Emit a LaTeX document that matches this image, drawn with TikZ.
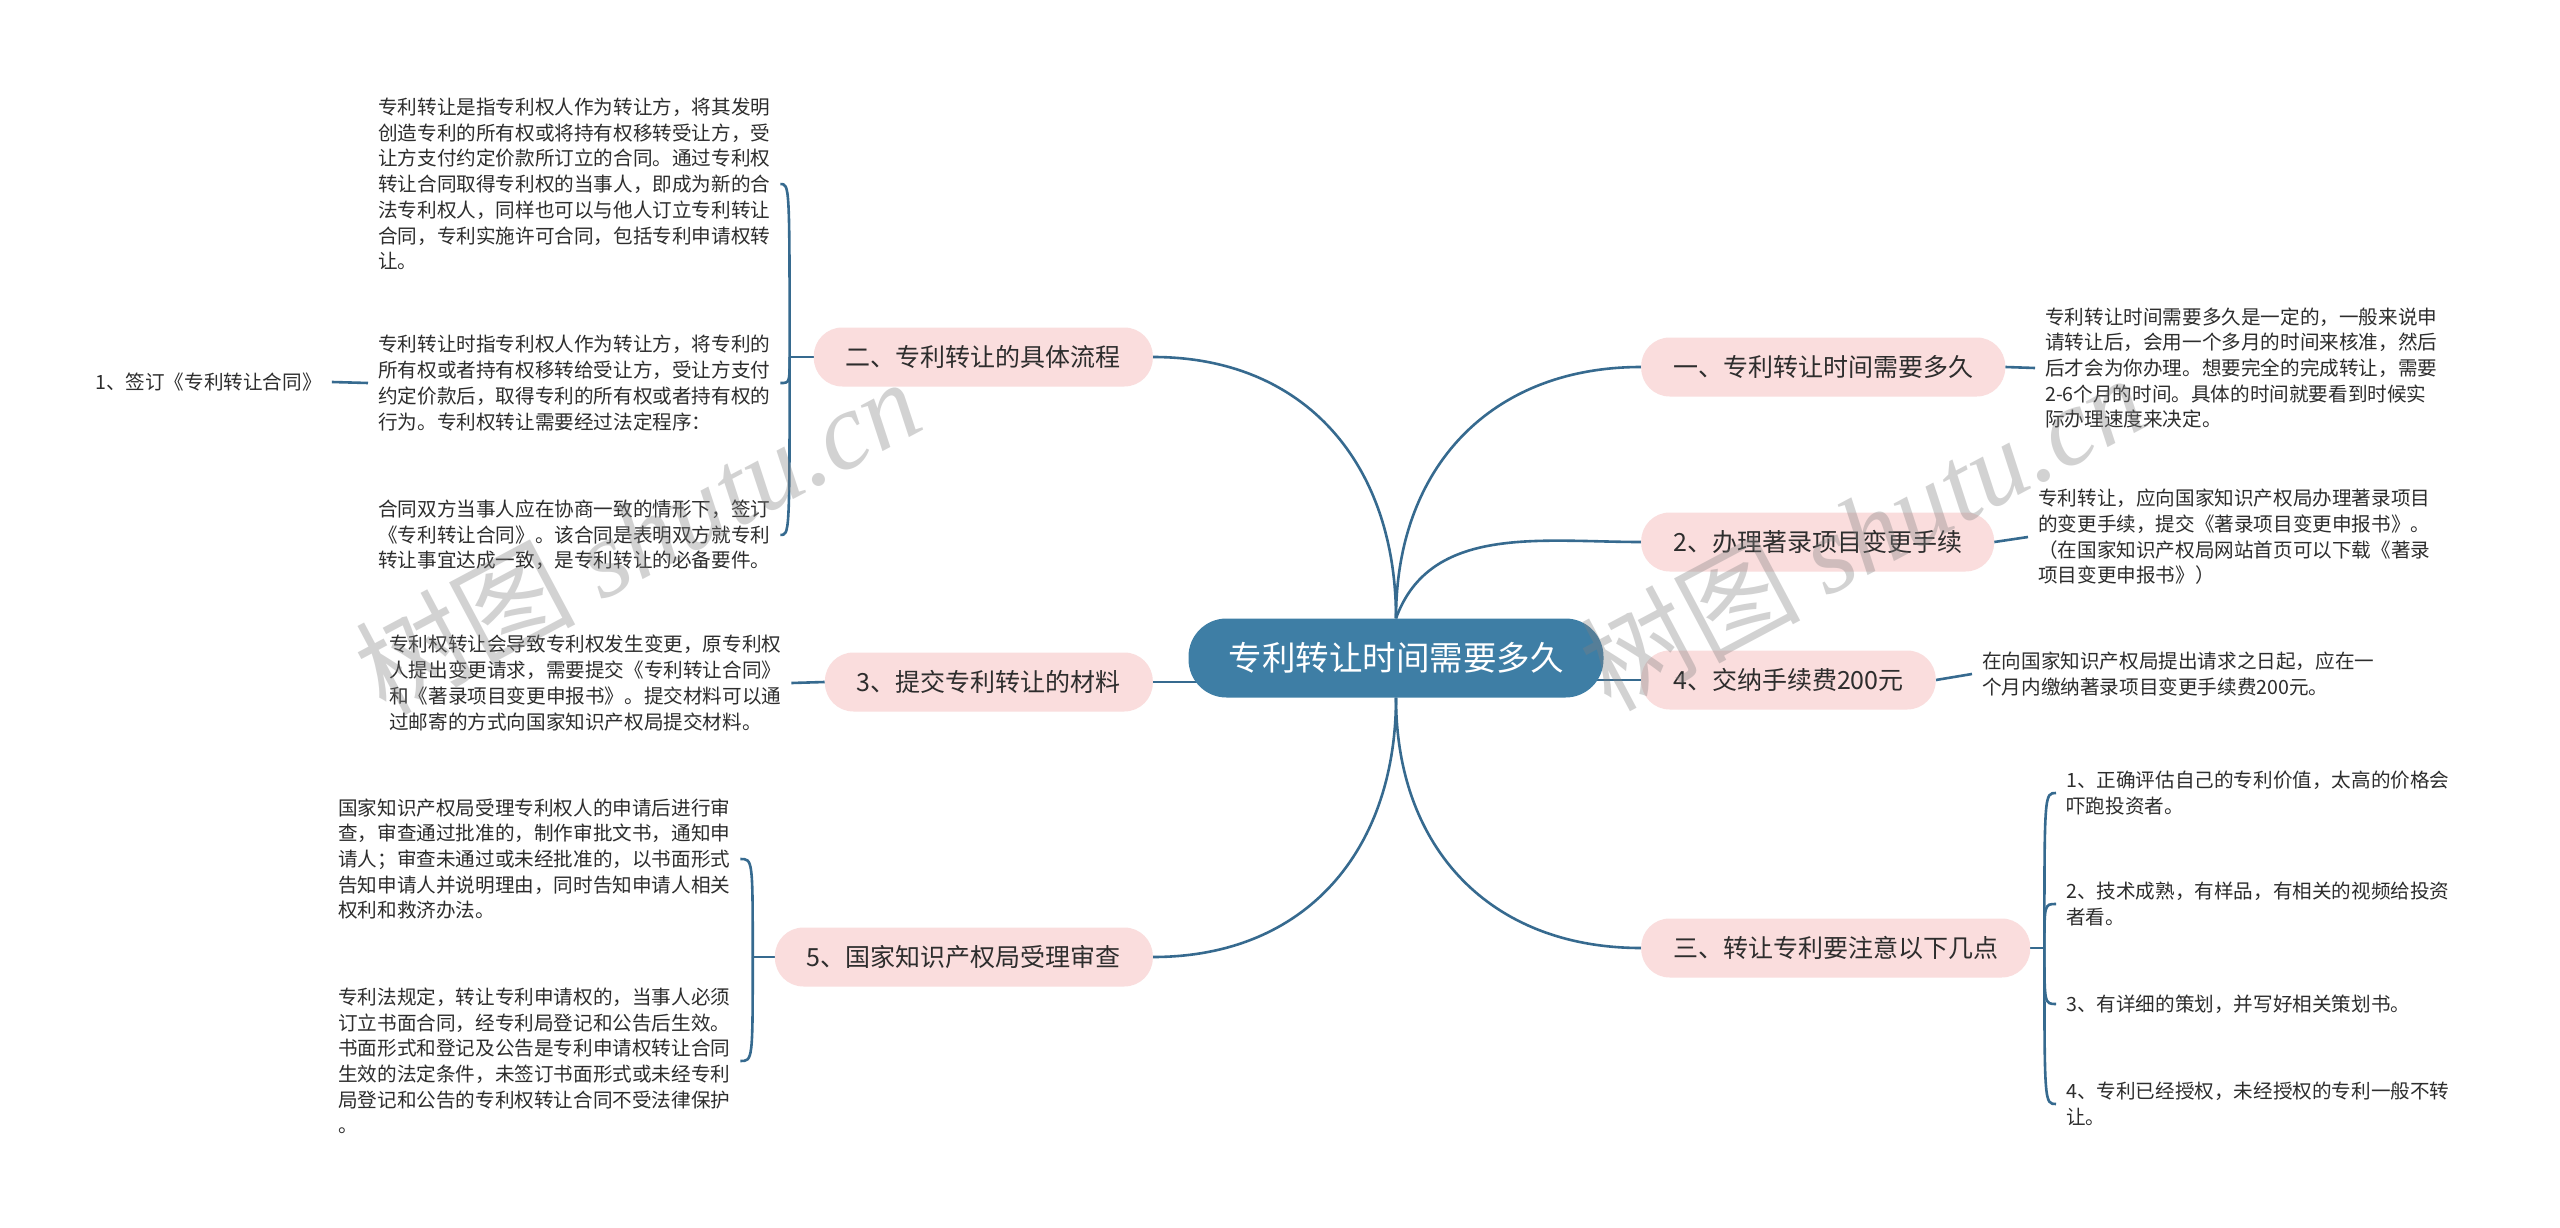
\documentclass[tikz,border=0pt]{standalone}
\usepackage{fontspec}
\setmainfont{Noto Sans CJK SC}
\newfontfamily\markfont{Liberation Serif}
\usetikzlibrary{backgrounds}

\definecolor{rootblue}{RGB}{62,126,165}
\definecolor{linkblue}{RGB}{54,106,143}
\definecolor{branchpink}{RGB}{250,221,221}
\definecolor{leafgray}{RGB}{45,45,45}

\begin{document}
\begin{tikzpicture}[x=1pt, y=-1pt]

% Styles
\tikzset{
  root/.style={rounded corners=38pt, fill=rootblue, text=white, minimum height=79pt,
    inner xsep=40pt, font=\fontsize{33.5}{40}\selectfont},
  branch/.style={rounded corners=28.5pt, fill=branchpink, text=leafgray, minimum height=59pt,
    inner xsep=32pt, font=\fontsize{25}{30}\selectfont},
  leaf/.style={align=left, text=leafgray, inner xsep=10pt, inner ysep=2pt,
    font=\fontsize{19.6}{25.7}\selectfont},
  link/.style={draw=linkblue, line width=2.6pt},
  wmark/.style={text=gray, text opacity=0.35, font=\fontsize{110}{110}\selectfont}
}

\useasboundingbox (0,0) rectangle (2560,1228);

% Centre
\node[root] (root) at (1396,658) {专利转让时间需要多久};

% Branches, left side
\node[branch, anchor=east] (b2) at (1153,357) {二、专利转让的具体流程};
\node[branch, anchor=east] (b3) at (1153,682) {3、提交专利转让的材料};
\node[branch, anchor=east] (b5) at (1153,957) {5、国家知识产权局受理审查};

% Branches, right side
\node[branch, anchor=west] (r1) at (1641,367) {一、专利转让时间需要多久};
\node[branch, anchor=west] (r2) at (1641,542) {2、办理著录项目变更手续};
\node[branch, anchor=west] (r4) at (1641,680) {4、交纳手续费200元};
\node[branch, anchor=west] (r3) at (1641,948) {三、转让专利要注意以下几点};

% Leaves of b2
\node[leaf, anchor=west] (defn) at (368,184) {专利转让是指专利权人作为转让方，将其发明\\
  创造专利的所有权或将持有权移转受让方，受\\
  让方支付约定价款所订立的合同。通过专利权\\
  转让合同取得专利权的当事人，即成为新的合\\
  法专利权人，同样也可以与他人订立专利转让\\
  合同，专利实施许可合同，包括专利申请权转\\
  让。};
\node[leaf, anchor=west] (proc) at (368,383) {专利转让时指专利权人作为转让方，将专利的\\
  所有权或者持有权移转给受让方，受让方支付\\
  约定价款后，取得专利的所有权或者持有权的\\
  行为。专利权转让需要经过法定程序：};
\node[leaf, anchor=west] (sign) at (85,382) {1、签订《专利转让合同》};
\node[leaf, anchor=west] (agree) at (368,535) {合同双方当事人应在协商一致的情形下，签订\\
  《专利转让合同》。该合同是表明双方就专利\\
  转让事宜达成一致，是专利转让的必备要件。};

% Leaf of b3
\node[leaf, anchor=west] (submit) at (379,683) {专利权转让会导致专利权发生变更，原专利权\\
  人提出变更请求，需要提交《专利转让合同》\\
  和《著录项目变更申报书》。提交材料可以通\\
  过邮寄的方式向国家知识产权局提交材料。};

% Leaves of b5
\node[leaf, anchor=west] (check) at (328,859) {国家知识产权局受理专利权人的申请后进行审\\
  查，审查通过批准的，制作审批文书，通知申\\
  请人；审查未通过或未经批准的，以书面形式\\
  告知申请人并说明理由，同时告知申请人相关\\
  权利和救济办法。};
\node[leaf, anchor=west] (law) at (328,1061) {专利法规定，转让专利申请权的，当事人必须\\
  订立书面合同，经专利局登记和公告后生效。\\
  书面形式和登记及公告是专利申请权转让合同\\
  生效的法定条件，未签订书面形式或未经专利\\
  局登记和公告的专利权转让合同不受法律保护\\
  。};

% Leaves, right side
\node[leaf, anchor=west] (time) at (2035,368) {专利转让时间需要多久是一定的，一般来说申\\
  请转让后，会用一个多月的时间来核准，然后\\
  后才会为你办理。想要完全的完成转让，需要\\
  2-6个月的时间。具体的时间就要看到时候实\\
  际办理速度来决定。};
\node[leaf, anchor=west] (record) at (2028,537) {专利转让，应向国家知识产权局办理著录项目\\
  的变更手续，提交《著录项目变更申报书》。\\
  （在国家知识产权局网站首页可以下载《著录\\
  项目变更申报书》）};
\node[leaf, anchor=west] (fee) at (1972,674) {在向国家知识产权局提出请求之日起，应在一\\
  个月内缴纳著录项目变更手续费200元。};
\node[leaf, anchor=west] (tip1) at (2056,793) {1、正确评估自己的专利价值，太高的价格会\\
  吓跑投资者。};
\node[leaf, anchor=west] (tip2) at (2056,904) {2、技术成熟，有样品，有相关的视频给投资\\
  者看。};
\node[leaf, anchor=west] (tip3) at (2056,1004) {3、有详细的策划，并写好相关策划书。};
\node[leaf, anchor=west] (tip4) at (2056,1104) {4、专利已经授权，未经授权的专利一般不转\\
  让。};

% Bracket joints
\coordinate (j2) at ([xshift=-24pt]b2.west);
\coordinate (j5) at ([xshift=-22pt]b5.west);
\coordinate (j3) at ([xshift=14pt]r3.east);

\begin{scope}[on background layer]
\fill[white] (0,0) rectangle (2560,1228);

% Centre to branches
\draw[link] (root.north) to[out=90, in=0, looseness=1.1] (b2.east);
\draw[link] (root.north) to[out=90, in=180, looseness=1.1] (r1.west);
\draw[link] (root.north) to[out=70, in=180] (r2.west);
\draw[link] (b3.east) -- (root.center |- b3.east);
\draw[link] (root.center |- r4.west) -- (r4.west);
\draw[link] (root.south) to[out=-90, in=0, looseness=1.1] (b5.east);
\draw[link] (root.south) to[out=-90, in=180, looseness=1.1] (r3.west);

% Branch b2
\draw[link] (b2.west) -- (j2);
\draw[link] (j2) .. controls (j2 |- defn.east) .. (defn.east);
\draw[link] (j2) .. controls (j2 |- proc.east) .. (proc.east);
\draw[link] (j2) .. controls (j2 |- agree.east) .. (agree.east);
\draw[link] (proc.west) -- (sign.east);

% Branch b3
\draw[link] (b3.west) -- (submit.east);

% Branch b5
\draw[link] (b5.west) -- (j5);
\draw[link] (j5) .. controls (j5 |- check.east) .. (check.east);
\draw[link] (j5) .. controls (j5 |- law.east) .. (law.east);

% Right branches
\draw[link] (r1.east) -- (time.west);
\draw[link] (r2.east) -- (record.west);
\draw[link] (r4.east) -- (fee.west);
\draw[link] (r3.east) -- (j3);
\foreach \t in {tip1, tip2, tip3, tip4}
  \draw[link] (j3) .. controls (j3 |- \t.west) .. (\t.west);
\end{scope}

% Watermarks
\node[wmark, rotate=28] (markL) at (637,535) {树图 {\markfont\itshape shutu.cn}};
\node[wmark, rotate=28] (markR) at (1862,531) {树图 {\markfont\itshape shutu.cn}};

\end{tikzpicture}
\end{document}
